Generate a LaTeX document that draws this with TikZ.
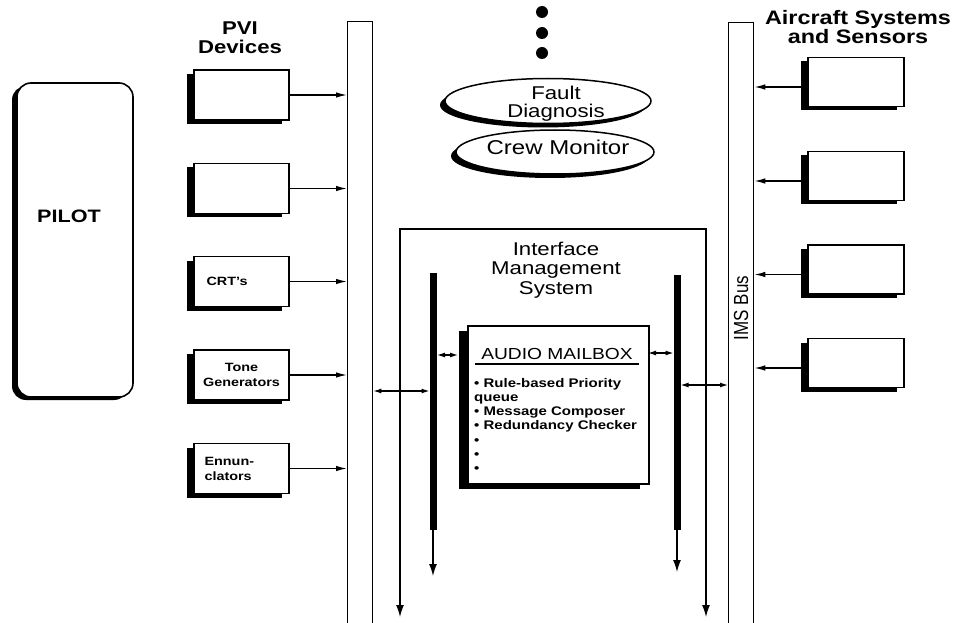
\documentclass[tikz,border=0pt]{standalone}
\usepackage{fontspec}
\setmainfont[FakeStretch=1.2]{Liberation Sans}
\newfontfamily\plainsf{Liberation Sans}
\usetikzlibrary{arrows.meta,shadows,shapes.geometric}
\tikzset{
  box/.style={draw, line width=1.6pt, fill=white, minimum width=95pt, minimum height=50pt, inner sep=0pt,
    drop shadow={shadow xshift=-7pt, shadow yshift=-4pt, fill=black, opacity=1},
    font=\bfseries\fontsize{12}{15}\selectfont},
  busbar/.style={draw, line width=1.3pt, fill=white, minimum width=25pt, minimum height=640pt, inner sep=0pt, anchor=north west},
  ell/.style={ellipse, draw, line width=1.5pt, fill=white, inner sep=0pt,
    drop shadow={shadow xshift=-5pt, shadow yshift=-4pt, fill=black, opacity=1}},
  arr/.style={line width=1.3pt, -{Latex[length=11pt,width=5.5pt]}},
  darr/.style={line width=1.2pt, {Latex[length=8pt,width=5pt]}-{Latex[length=8pt,width=5pt]}},
  downarr/.style={line width=1.3pt, -{Latex[length=12pt,width=8pt]}},
  dot/.style={circle, fill=black, minimum size=12pt, inner sep=0pt},
  hdr/.style={font=\bfseries\fontsize{18.5}{19}\selectfont, align=center, inner sep=0pt},
  reg/.style={font=\fontsize{20}{19}\selectfont, align=center, inner sep=0pt}
}
\begin{document}
\begin{tikzpicture}[x=1pt,y=-1pt]
\path[use as bounding box, clip] (0,0) rectangle (962,623);
\fill[white] (0,0) rectangle (962,623);

% Pilot
\node[draw, line width=1.6pt, fill=white, rounded corners=14pt, minimum width=116pt, minimum height=314pt, inner sep=0pt,
  drop shadow={shadow xshift=-5pt, shadow yshift=-3pt, fill=black, opacity=1}] (pilot) at (75,240) {};
\node[font=\bfseries\fontsize{18}{18}\selectfont, inner sep=0pt] (pilottxt) at (69,216) {PILOT};

% Headers
\node[hdr] (pvi) at (240,38) {PVI\\Devices};
\node[hdr, font=\bfseries\fontsize{19.5}{19.5}\selectfont] (acs) at (858,27) {Aircraft Systems\\and Sensors};

% Bus bars
\node[busbar] (lbus) at (347,21) {};
\node[busbar] (rbus) at (728,22) {};
\node[rotate=90, inner sep=0pt, font=\plainsf\fontsize{17}{17}\selectfont] (imsbus) at (741,308) {\scalebox{1}[1.2]{IMS Bus}};

% PVI devices
\node[box] (p1) at (241.5,95) {};
\node[box] (p2) at (241.5,188.5) {};
\node[box, align=left, text width=70pt] (p3) at (241.5,281.5) {CRT's};
\node[box, align=center] (p4) at (241.5,375) {Tone\\Generators};
\node[box, align=left, text width=74pt] (p5) at (241.5,468.5) {Ennun-\\clators};
\foreach \i in {1,...,5} \draw[arr] (p\i.east) -- (p\i.east -| lbus.west);

% Aircraft systems
\node[box, minimum width=96pt, minimum height=49pt] (a1) at (856,82) {};
\node[box, minimum width=96pt, minimum height=49pt] (a2) at (856,176) {};
\node[box, minimum width=96pt, minimum height=49pt] (a3) at (856,269.5) {};
\node[box, minimum width=96pt, minimum height=49pt] (a4) at (856,363) {};
\foreach \i in {1,...,4} {
  \coordinate (ra\i) at ([yshift=-5pt]a\i.west);
  \draw[arr] (ra\i) -- (ra\i -| rbus.east);
}

% Dots and ellipses
\node[dot] (d1) at (542,12) {};
\node[dot] (d2) at (542,33) {};
\node[dot] (d3) at (542,53) {};
\node[ell, minimum width=206pt, minimum height=45pt] (fault) at (548,101) {};
\node[reg, font=\fontsize{18.5}{18}\selectfont] (faulttxt) at (556,103.5) {Fault\\Diagnosis};
\node[ell, minimum width=198pt, minimum height=44pt] (crew) at (555,152) {};
\node[reg] (crewtxt) at (558,147) {Crew Monitor};

% IMS frame
\coordinate (imsTL) at (400,229);
\coordinate (imsTR) at (706,229);
\coordinate (imsBL) at (400,617);
\coordinate (imsBR) at (706,617);
\draw[line width=1.3pt, {Latex[length=12pt,width=8pt]}-{Latex[length=12pt,width=8pt]}] (imsBL) -- (imsTL) -- (imsTR) -- (imsBR);
\node[reg, font=\fontsize{18.5}{19.5}\selectfont] (imstxt) at (556,270) {Interface\\Management\\System};

% Thick internal buses
\coordinate (lt1) at (433,273);
\coordinate (lt2) at (433,530);
\coordinate (lt3) at (433,576);
\coordinate (rt1) at (677,275);
\coordinate (rt2) at (677,530);
\coordinate (rt3) at (677,572);
\draw[line width=7pt] (lt1) -- (lt2);
\draw[downarr] (lt2) -- (lt3);
\draw[line width=7pt] (rt1) -- (rt2);
\draw[downarr] (rt2) -- (rt3);

% Audio mailbox
\node[draw, line width=1.5pt, fill=white, minimum width=181pt, minimum height=158pt, inner sep=0pt, anchor=north west,
  drop shadow={shadow xshift=-9pt, shadow yshift=-5pt, fill=black, opacity=1}] (mb) at (467,325) {};
\node[inner sep=0pt, font=\fontsize{16}{16}\selectfont] (mbtitle) at (557,354) {AUDIO MAILBOX};
\coordinate (rl1) at (475,364);
\coordinate (rl2) at (639,364);
\draw[line width=1.2pt] (rl1) -- (rl2);
\node[anchor=north west, align=left, inner sep=0pt, font=\bfseries\fontsize{12.5}{14.2}\selectfont] (mbtext) at (474,378)
  {\textbullet{} Rule-based Priority\\queue\\\textbullet{} Message Composer\\\textbullet{} Redundancy Checker\\\textbullet\\\textbullet\\\textbullet};

% Double arrows
\coordinate (ml1) at (437,355);
\coordinate (ml2) at (458,355);
\coordinate (mr1) at (648,353);
\coordinate (mr2) at (673.5,353);
\coordinate (lk) at (429.5,391);
\coordinate (rk) at (680.5,385);
\draw[darr] (ml1) -- (ml2);
\draw[darr] (mr1) -- (mr2);
\draw[darr] (lbus.east |- lk) -- (lk);
\draw[darr] (rk) -- (rk -| rbus.west);
\end{tikzpicture}
\end{document}
